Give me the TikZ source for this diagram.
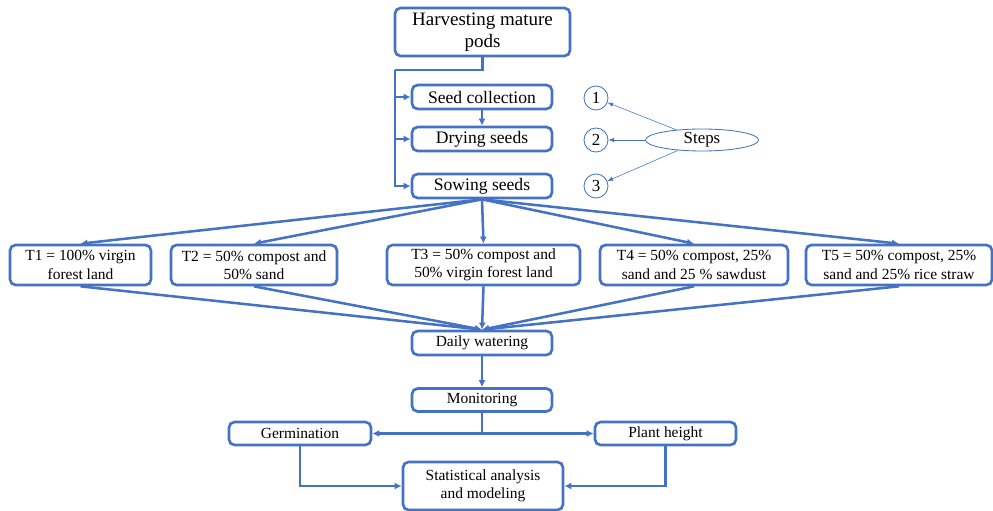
\documentclass[tikz,border=0pt]{standalone}
\usepackage{fontspec}
\setmainfont{Liberation Serif}
\usetikzlibrary{arrows.meta,shapes.geometric}
\definecolor{flowblue}{HTML}{4472C4}

\begin{document}
\begin{tikzpicture}[x=0.025cm, y=-0.025cm,
    box/.style={draw=flowblue, line width=1.9pt, rounded corners=4pt, fill=white,
      inner sep=1pt, align=center, font=\fontsize{11}{13}\selectfont},
    num/.style={draw=flowblue, circle, line width=0.6pt, minimum size=0.6cm,
      inner sep=0pt, font=\fontsize{12}{14}\selectfont},
    flow/.style={draw=flowblue, line width=1.8pt, -{Latex[length=5pt,width=5pt]}},
    link/.style={draw=flowblue, line width=1.8pt},
    thin/.style={draw=flowblue, line width=0.4pt, -{Latex[length=4pt,width=3pt]}}]
    \useasboundingbox (0,0) rectangle (993,511);
    % main column
    \node[box, minimum width=4.375cm, minimum height=1.2cm, font=\fontsize{13.5}{16}\selectfont] (harv) at (482.5,32) {Harvesting mature\\pods};
    \node[box, minimum width=3.5cm, minimum height=0.6cm, font=\fontsize{12.5}{14}\selectfont] (seed) at (482,97) {Seed collection};
    \node[box, minimum width=3.5cm, minimum height=0.6cm, font=\fontsize{12.5}{14}\selectfont] (dry) at (482,139) {Drying seeds};
    \node[box, minimum width=3.5cm, minimum height=0.6cm, font=\fontsize{12.5}{14}\selectfont] (sow) at (482,186) {Sowing seeds};
    % steps
    \node[num] (c1) at (596,98) {1};
    \node[num] (c2) at (596,140) {2};
    \node[num] (c3) at (596,186) {3};
    \node[draw=flowblue, ellipse, line width=0.6pt, minimum width=2.825cm, minimum height=0.55cm,
      inner sep=0pt, font=\fontsize{12}{14}\selectfont] (steps) at (702,140) {Steps};
    % treatments
    \node[box, minimum width=3.525cm, minimum height=1cm] (t1) at (80.5,265) {T1 = 100\% virgin\\forest land};
    \node[box, minimum width=4.15cm, minimum height=1cm] (t2) at (254,265) {T2 = 50\% compost and\\50\% sand};
    \node[box, minimum width=4.825cm, minimum height=1cm] (t3) at (483.5,265) {T3 = 50\% compost and\\50\% virgin forest land};
    \node[box, minimum width=4.7cm, minimum height=1cm] (t4) at (694,265) {T4 = 50\% compost, 25\%\\sand and 25 \% sawdust};
    \node[box, minimum width=4.65cm, minimum height=1cm] (t5) at (899,265) {T5 = 50\% compost, 25\%\\sand and 25\% rice straw};
    % lower part
    \node[box, minimum width=3.5cm, minimum height=0.6cm] (water) at (482,343) {Daily watering};
    \node[box, minimum width=3.5cm, minimum height=0.575cm] (mon) at (482,400) {Monitoring};
    \node[box, minimum width=3.55cm, minimum height=0.575cm] (germ) at (300,433.5) {Germination};
    \node[box, minimum width=3.525cm, minimum height=0.575cm] (plant) at (665.5,433.5) {Plant height};
    \node[box, minimum width=4cm, minimum height=1.2cm] (stat) at (483,486) {Statistical analysis\\and modeling};
    % connectors
    \coordinate (bl) at (395,70);
    \draw[link] (harv.south) |- (bl);
    \draw[flow] (bl) |- (sow.west);
    \draw[flow] (bl |- seed.west) -- (seed.west);
    \draw[flow] (bl |- dry.west) -- (dry.west);
    \draw[flow] (seed.south) -- (dry.north);
    \foreach \t in {t1,t2,t3,t4,t5}{
      \draw[flow] (sow.south) -- (\t.north);
      \draw[flow] (\t.south) -- (water.north);
    }
    \draw[thin] (steps) -- (c1);
    \draw[thin] (steps) -- (c2);
    \draw[thin] (steps) -- (c3);
    \draw[flow] (water.south) -- (mon.north);
    \draw[flow] (mon.south) |- (germ.east);
    \draw[flow] (mon.south) |- (plant.west);
    \draw[flow] (germ.south) |- (stat.west);
    \draw[flow] (plant.south) |- (stat.east);
\end{tikzpicture}
\end{document}
